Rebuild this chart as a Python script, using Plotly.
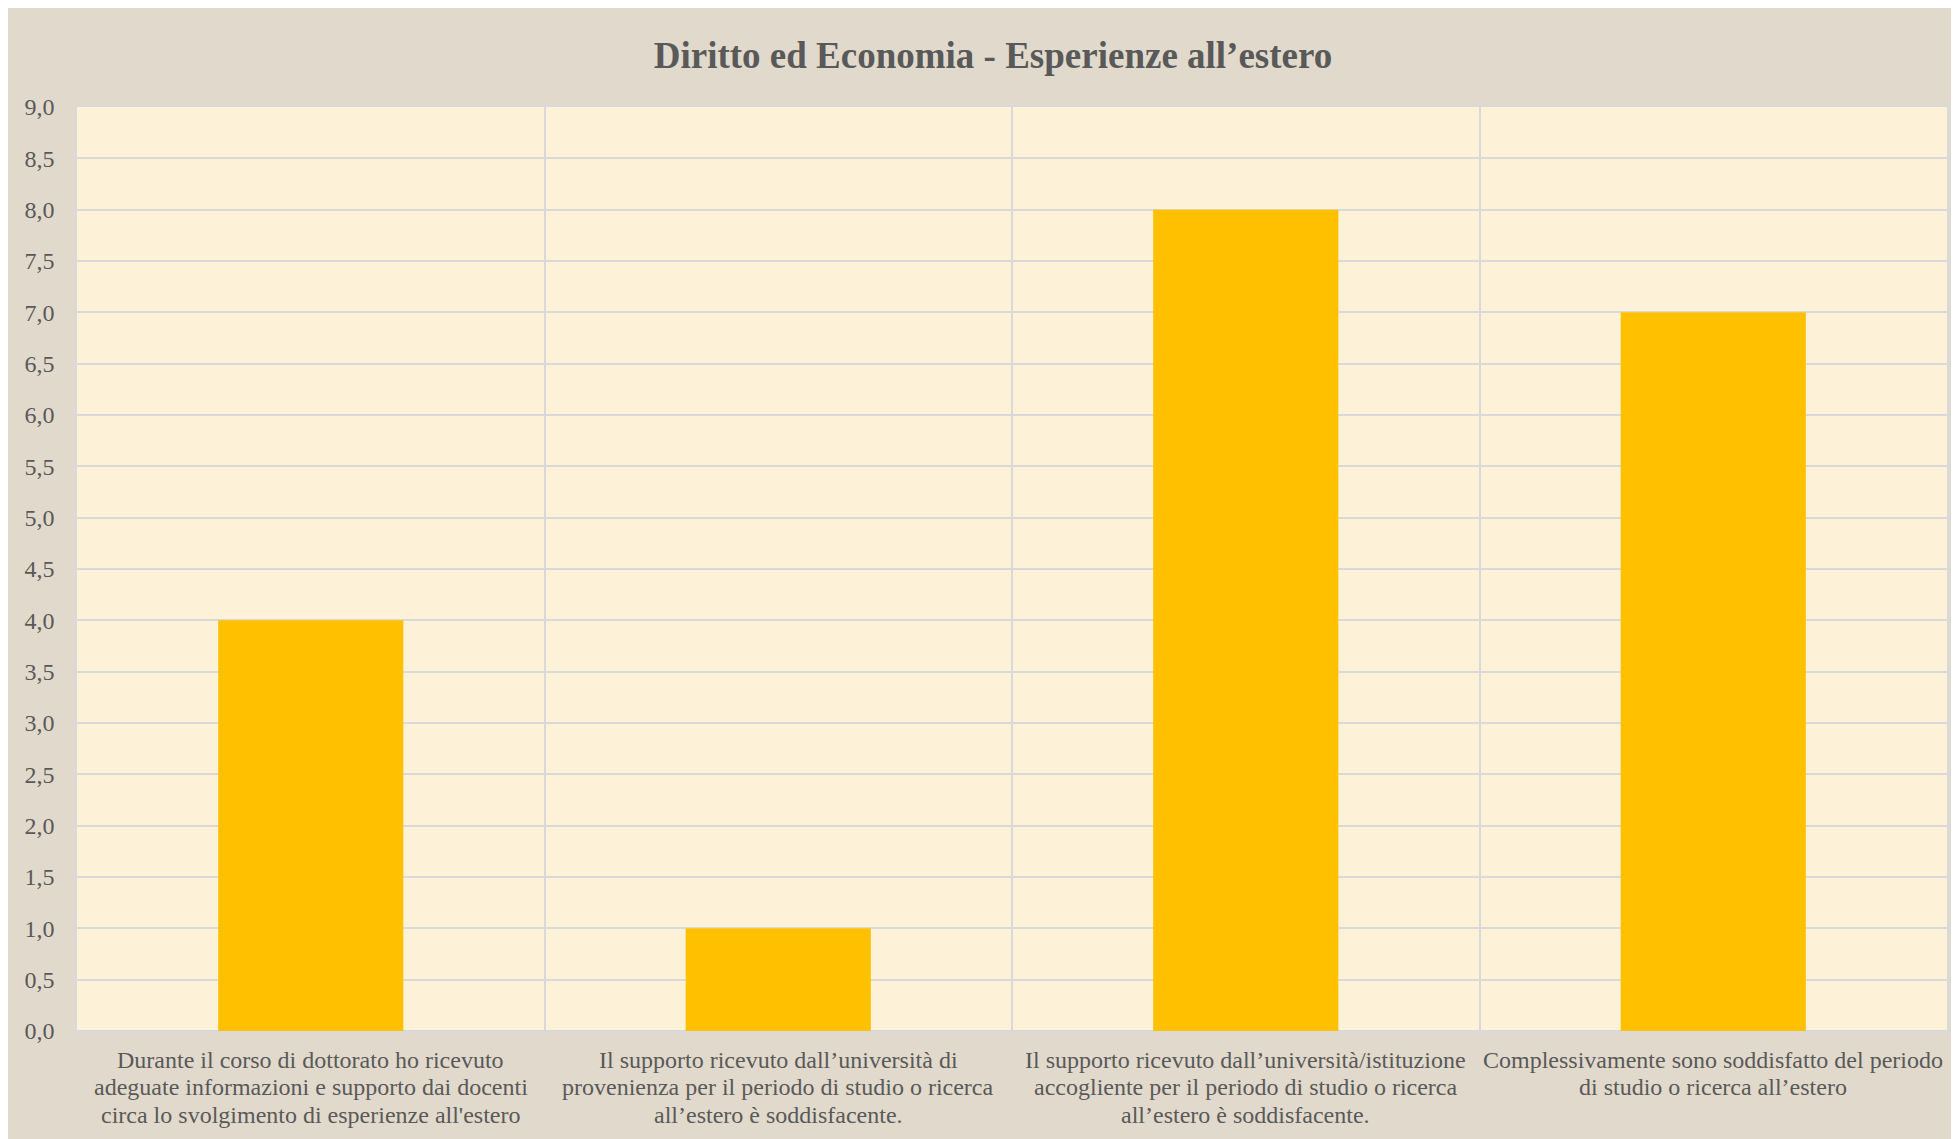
import plotly.graph_objects as go

# ---- data ----
categories = ["Q1", "Q2", "Q3", "Q4"]
category_lines = [
    ["Durante il corso di dottorato ho ricevuto",
     "adeguate informazioni e supporto dai docenti",
     "circa lo svolgimento di esperienze all'estero"],
    ["Il supporto ricevuto dall\u2019università di",
     "provenienza per il periodo di studio o ricerca",
     "all\u2019estero è soddisfacente."],
    ["Il supporto ricevuto dall\u2019università/istituzione",
     "accogliente per il periodo di studio o ricerca",
     "all\u2019estero è soddisfacente."],
    ["Complessivamente sono soddisfatto del periodo",
     "di studio o ricerca all\u2019estero"],
]
values = [4, 1, 8, 7]
title_text = "Diritto ed Economia - Esperienze all\u2019estero"

W, H = 1959, 1139
L, R, T, B = 69, 20, 99, 116
FONT = "Liberation Serif, Times New Roman, serif"
TXT = "#595959"
GRID = "#d9d9d9"

fig = go.Figure(go.Bar(
    x=categories, y=values,
    marker=dict(color="#FFC000", line=dict(width=0)),
    hoverinfo="y",
))

annotations = []
for i, lines in enumerate(category_lines):
    for j, line in enumerate(lines):
        annotations.append(dict(
            x=categories[i], xref="x", y=0, yref="paper",
            text=line, showarrow=False, xanchor="center", yanchor="middle",
            yshift=-(28.5 + j * 27.5),
            font=dict(family=FONT, size=24, color=TXT),
        ))

fig.update_layout(
    width=W, height=H,
    margin=dict(l=L, r=R, t=T, b=B, pad=0),
    paper_bgcolor="#e1dacc",
    plot_bgcolor="#fdf1d8",
    separators=",.",
    bargap=0.604,
    showlegend=False,
    title=dict(
        text="<b>" + title_text + "</b>",
        x=985 / W, xref="container", xanchor="center",
        y=1 - 47 / H, yref="container", yanchor="middle",
        font=dict(family=FONT, size=37, color=TXT),
    ),
    annotations=annotations,
    xaxis=dict(
        showticklabels=False, ticks="",
        tickson="boundaries", showgrid=True,
        gridcolor=GRID, gridwidth=1.5,
        showline=True, mirror=True, linecolor=GRID, linewidth=1.5,
        zeroline=False,
        range=[-0.5, 3.5],
    ),
    yaxis=dict(
        range=[0, 9], dtick=0.5, tick0=0, tickformat=".1f",
        showgrid=True, gridcolor=GRID, gridwidth=1.5,
        zeroline=True, zerolinecolor=GRID, zerolinewidth=1.5,
        ticks="", ticklabelstandoff=16,
        tickfont=dict(family=FONT, size=24, color=TXT),
        showline=True, mirror=True, linecolor=GRID, linewidth=1.5,
    ),
)

fig.write_html("out.html")
